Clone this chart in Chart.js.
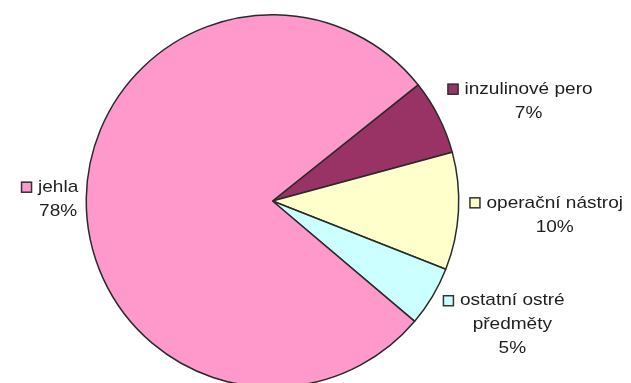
<!DOCTYPE html>
<html>
<head>
<meta charset="utf-8">
<script src="https://cdn.jsdelivr.net/npm/chart.js@4/dist/chart.umd.min.js"></script>
<style>
  html, body { margin: 0; padding: 0; background: #fff; overflow: hidden; }
  canvas { display: block; }
</style>
</head>
<body>
<canvas id="pie" width="631" height="400"></canvas>
<script>
'use strict';
// data (slice order clockwise, starting upper right)
const categories = ['inzulinové pero', 'operační nástroj', 'ostatní ostré předměty', 'jehla'];
const labelLines = [['inzulinové pero'], ['operační nástroj'], ['ostatní ostré', 'předměty'], ['jehla']];
const shares = [6.5, 10.2, 5.2, 78.1];
const sliceColors = ['#993366', '#FFFFCC', '#CCFFFF', '#FF99CC'];

// small per-label nudges from the automatic anchor (first line centre)
const labelNudge = [[0, -23], [1, -9], [2, -1], [2, -11]];
const stretch = 1.12;
const boxSize = 11;
const boxGap = 6;
const lineStep = 24;

const sliceLabels = {
    id: 'sliceLabels',
    afterDatasetsDraw(chart) {
        const ctx = chart.ctx;
        const meta = chart.getDatasetMeta(0);
        ctx.save();
        ctx.font = '17px "Liberation Sans", Arial, sans-serif';
        ctx.textBaseline = 'middle';
        ctx.textAlign = 'left';
        meta.data.forEach((arc, i) => {
            const mid = (arc.startAngle + arc.endAngle) / 2;
            const r = arc.outerRadius + 10;
            const ax = arc.x + Math.cos(mid) * r + labelNudge[i][0];
            const ay = arc.y + Math.sin(mid) * r + labelNudge[i][1];
            const lines = labelLines[i].concat([Math.round(shares[i]) + '%']);
            const w0 = ctx.measureText(lines[0]).width * stretch;
            const onRight = Math.cos(mid) > 0;
            const boxLeft = onRight ? ax : ax - w0 - boxGap - boxSize;
            const textLeft = boxLeft + boxSize + boxGap;
            const textMid = textLeft + w0 / 2;

            // little legend box
            ctx.fillStyle = sliceColors[i];
            ctx.fillRect(boxLeft, ay - boxSize / 2, boxSize, boxSize);
            ctx.strokeStyle = '#333';
            ctx.lineWidth = 1.5;
            ctx.strokeRect(boxLeft + 0.5, ay - boxSize / 2 + 0.5, boxSize - 1, boxSize - 1);

            ctx.fillStyle = '#1e1e1e';
            lines.forEach((t, k) => {
                const w = ctx.measureText(t).width * stretch;
                const x = k === 0 ? textLeft : textMid - w / 2;
                ctx.save();
                ctx.translate(x, ay + k * lineStep);
                ctx.scale(stretch, 1);
                ctx.fillText(t, 0, 0);
                ctx.restore();
            });
        });
        ctx.restore();
    }
};

new Chart(document.getElementById('pie'), {
    type: 'pie',
    data: {
        labels: categories,
        datasets: [{
            data: shares,
            backgroundColor: sliceColors,
            borderColor: '#2a2a2a',
            borderWidth: 1.5
        }]
    },
    options: {
        responsive: false,
        animation: false,
        rotation: 51.4,
        layout: { padding: { top: 14, bottom: 12, left: 85.5, right: 171.5 } },
        plugins: {
            legend: { display: false },
            tooltip: { enabled: false }
        }
    },
    plugins: [sliceLabels]
});
</script>
</body>
</html>
